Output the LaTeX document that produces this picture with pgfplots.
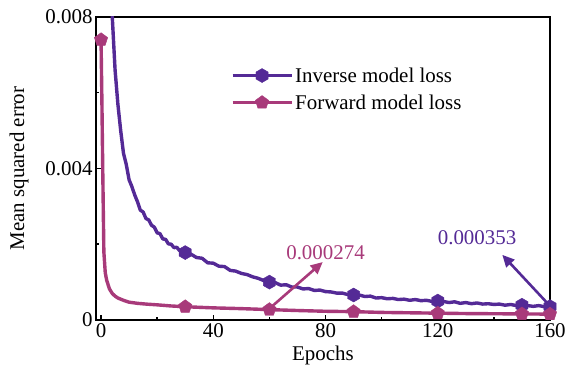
\documentclass[border=0pt]{standalone}
\usepackage{fontspec}
\setmainfont{Liberation Serif}
\usepackage{pgfplots}
\pgfplotsset{compat=1.18}
\usetikzlibrary{arrows.meta,plotmarks}
\definecolor{inv}{RGB}{84,42,150}
\definecolor{fwd}{RGB}{168,58,122}
\pgfdeclareplotmark{hex*}{%
  \pgfpathmoveto{\pgfqpointpolar{90}{\pgfplotmarksize}}%
  \pgfpathlineto{\pgfqpointpolar{150}{\pgfplotmarksize}}%
  \pgfpathlineto{\pgfqpointpolar{210}{\pgfplotmarksize}}%
  \pgfpathlineto{\pgfqpointpolar{270}{\pgfplotmarksize}}%
  \pgfpathlineto{\pgfqpointpolar{330}{\pgfplotmarksize}}%
  \pgfpathlineto{\pgfqpointpolar{30}{\pgfplotmarksize}}%
  \pgfpathclose\pgfusepathqfillstroke}
\newcommand{\fs}{\fontsize{21}{25}\selectfont}
\begin{document}
\begin{tikzpicture}
\begin{axis}[
  name=ax,
  scale only axis, width=454bp, height=303bp,
  xmin=-1.8, xmax=160, ymin=0, ymax=0.008,
  scaled y ticks=false,
  axis line style={line width=1.8bp},
  every tick/.style={black, line width=1.5bp},
  major tick length=5bp, minor tick length=3bp,
  xtick pos=bottom, ytick pos=left,
  xtick={0,40,80,120,160}, minor xtick={20,60,100,140},
  ytick={0,0.004,0.008}, yticklabels={0,0.004,0.008}, minor ytick={0.002,0.006},
  /pgf/number format/assume math mode=true,
  tick label style={font=\fs},
  label style={font=\fs},
  xlabel={Epochs}, ylabel={Mean squared error},
  xlabel style={yshift=-2bp},
  ylabel style={yshift=10bp},
  legend style={draw=none, fill=none, font=\fs, at={(0.29,0.847)}, anchor=north west, row sep=7bp},
  legend cell align=left,
]
\addplot[inv, line width=3.4bp, line join=round, forget plot] coordinates {
(0,0.03)(1,0.02)(2,0.013)(3,0.0098)(4,0.0080)(5,0.0066)(6,0.0057)(7,0.0050)(8,0.0044)(9,0.0041)(10,0.0037)(11,0.00352)(12,0.0033)(13,0.00312)(14,0.0029)(15,0.00285)(16,0.00268)(17,0.00264)(18,0.00250)(19,0.00245)(20,0.00230)(21,0.00228)(22,0.00214)(23,0.00213)(24,0.00201)(25,0.00200)(26,0.00191)(27,0.00192)(28,0.00183)(29,0.00185)(30,0.00178)(32,0.00174)(34,0.00165)(36,0.00163)(38,0.00151)(40,0.00150)(42,0.00142)(44,0.00141)(46,0.00131)(48,0.00129)(50,0.00123)(52,0.00120)(54,0.00114)(56,0.00110)(58,0.00104)(60,0.00100)(62,0.00099)(64,0.00092)(66,0.00093)(68,0.00087)(70,0.00087)(72,0.00082)(74,0.00083)(76,0.00078)(78,0.00079)(80,0.00075)(82,0.00074)(84,0.00071)(86,0.00071)(88,0.00067)(90,0.00066)(92,0.00066)(94,0.00062)(96,0.00063)(98,0.00058)(100,0.00059)(102,0.00056)(104,0.00057)(106,0.00054)(108,0.00055)(110,0.00052)(112,0.00054)(114,0.00051)(116,0.00052)(118,0.00049)(120,0.00050)(122,0.00049)(124,0.00046)(126,0.00048)(128,0.00044)(130,0.00046)(132,0.00043)(134,0.00045)(136,0.00042)(138,0.00043)(140,0.00041)(142,0.00042)(144,0.00039)(146,0.00041)(148,0.00038)(150,0.00039)(152,0.00038)(154,0.00036)(156,0.00038)(158,0.00035)(160,0.000353)
};
\addplot[fwd, line width=3.4bp, line join=round, forget plot] coordinates {
(0,0.0074)(0.3,0.0058)(0.6,0.0040)(1,0.0018)(1.5,0.00125)(2,0.00105)(3,0.00082)(4,0.00070)(5,0.00063)(6,0.00058)(8,0.00052)(10,0.00047)(13,0.00044)(16,0.00042)(20,0.00040)(25,0.00037)(30,0.00035)(40,0.00032)(50,0.00030)(60,0.000274)(70,0.00025)(80,0.00023)(90,0.00022)(100,0.00020)(110,0.00019)(120,0.00018)(130,0.00017)(140,0.000165)(150,0.00016)(160,0.000155)
};
\addplot[inv, only marks, mark=hex*, mark size=7bp,
  legend image code/.code={\draw[inv, line width=3.4bp] (0cm,0cm) -- (59bp,0cm); \path[inv, mark=hex*, mark size=7bp] plot coordinates {(29.5bp,0cm)};}]
  coordinates {(30,0.00178)(60,0.00100)(90,0.00066)(120,0.00050)(150,0.00039)(160,0.000353)};
\addlegendentry{Inverse model loss}
\addplot[fwd, only marks, mark=pentagon*, mark size=7bp,
  legend image code/.code={\draw[fwd, line width=3.4bp] (0cm,0cm) -- (59bp,0cm); \path[fwd, mark=pentagon*, mark size=7bp] plot coordinates {(29.5bp,0cm)};}]
  coordinates {(0,0.0074)(30,0.00035)(60,0.000274)(90,0.00022)(120,0.00018)(150,0.00016)(160,0.000155)};
\addlegendentry{Forward model loss}
\draw[fwd, line width=2.6bp, -{Triangle[length=12bp,width=11bp]}] (axis cs:60,0.00030) -- (axis cs:79,0.00153);
\node[fwd, font=\fs] at (axis cs:80,0.00177) {0.000274};
\draw[inv, line width=2.6bp, -{Triangle[length=12bp,width=11bp]}] (axis cs:160,0.00037) -- (axis cs:143,0.00172);
\node[inv, font=\fs] at (axis cs:134,0.00217) {0.000353};
\end{axis}
\pgfresetboundingbox
\path ([shift={(-96bp,-52bp)}]ax.south west) rectangle ([shift={(17bp,17bp)}]ax.north east);
\end{tikzpicture}
\end{document}
